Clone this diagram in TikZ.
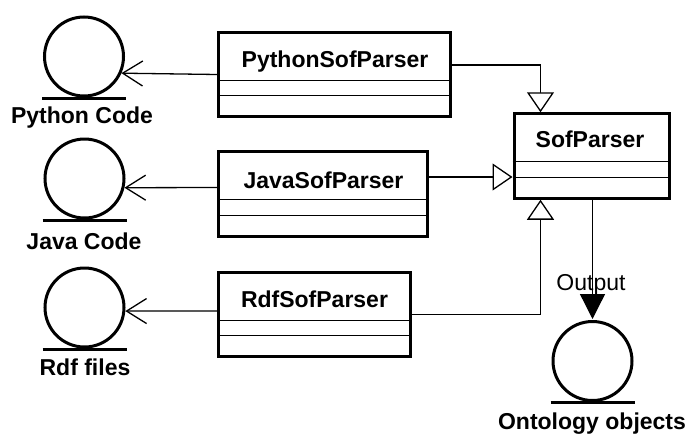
\documentclass[tikz,border=0pt]{standalone}
\usepackage{fontspec}
\setmainfont{Liberation Sans}
\usetikzlibrary{arrows.meta}
\begin{document}
\begin{tikzpicture}[x=1pt,y=-1pt,
  clsbox/.style={draw, line width=3pt, minimum width=#1, minimum height=84.5pt, inner sep=0pt},
  clsname/.style={anchor=base, inner sep=0pt, font=\fontsize{23}{27}\selectfont\bfseries},
  objcirc/.style={draw, circle, line width=3pt, minimum size=79pt, inner sep=0pt},
  objlabel/.style={anchor=base, inner sep=0pt, font=\fontsize{23}{27}\selectfont\bfseries},
  baseline/.style={line width=3pt},
  divline/.style={line width=1.3pt},
  conn/.style={line width=1.3pt},
  usearrow/.style={conn, -{Straight Barb[length=20pt,width=25pt]}},
  genarrow/.style={conn, -{Triangle[length=20pt,width=27pt,fill=white]}},
  outarrow/.style={conn, -{Triangle[length=25pt,width=25pt]}, shorten >=1pt},
  plainlabel/.style={anchor=base, inner sep=0pt, font=\fontsize{23}{27}\selectfont}
]
\useasboundingbox (0,0) rectangle (688,434);

% class boxes
\node[clsbox=232pt] (py) at (334.5,74.5) {};
\node[clsbox=209pt] (jv) at (323,194) {};
\node[clsbox=192pt] (rdf) at (314.5,314.5) {};
\node[clsbox=155pt] (sof) at (591.5,156) {};
\foreach \n in {py,jv,rdf,sof}{
  \draw[divline] ([yshift=-49.5pt]\n.north west) -- ([yshift=-49.5pt]\n.north east);
  \draw[divline] ([yshift=-65pt]\n.north west) -- ([yshift=-65pt]\n.north east);
}
\node[clsname] (pyt) at (335,67) {PythonSofParser};
\node[clsname] (jvt) at (323.5,188) {JavaSofParser};
\node[clsname] (rdft) at (314.5,307) {RdfSofParser};
\node[clsname] (soft) at (590,147) {SofParser};

% objects
\node[objcirc] (pyc) at (84,56.5) {};
\node[objcirc] (jvc) at (84.5,178.5) {};
\node[objcirc] (rdfc) at (84.5,307.5) {};
\node[objcirc] (onto) at (592.5,361) {};
\foreach \c in {pyc,jvc,rdfc,onto}{
  \draw[baseline] ([xshift=-42pt,yshift=-0.5pt]\c.south) -- ([xshift=42pt,yshift=-0.5pt]\c.south);
}
\node[objlabel] (pyl) at (82,123) {Python Code};
\node[objlabel] (jvl) at (84,249) {Java Code};
\node[objlabel] (rdfl) at (85,375) {Rdf files};
\node[objlabel] (ontol) at (592,429) {Ontology objects};

% uses
\draw[usearrow] (py.west) -- (pyc.-24);
\draw[usearrow] ([yshift=6.5pt]jv.west) -- (jvc.-13);
\draw[usearrow] ([yshift=3.5pt]rdf.west) -- (rdfc.-5);

% generalisation
\coordinate (pyout) at ([yshift=9.5pt]py.east);
\coordinate (sofin) at ([xshift=-51pt]sof.north);
\draw[genarrow] (pyout) -| (sofin);
\coordinate (jvout) at ([yshift=17pt]jv.east);
\draw[genarrow] (jvout) -- (jvout -| sof.west);
\coordinate (sofbot) at ([xshift=-51pt]sof.south);
\draw[genarrow] (rdf.east) -| (sofbot);

% output
\node[plainlabel] (outl) at (591,290) {Output};
\draw[outarrow] (onto.north |- sof.south) -- (onto.north);
\end{tikzpicture}
\end{document}
